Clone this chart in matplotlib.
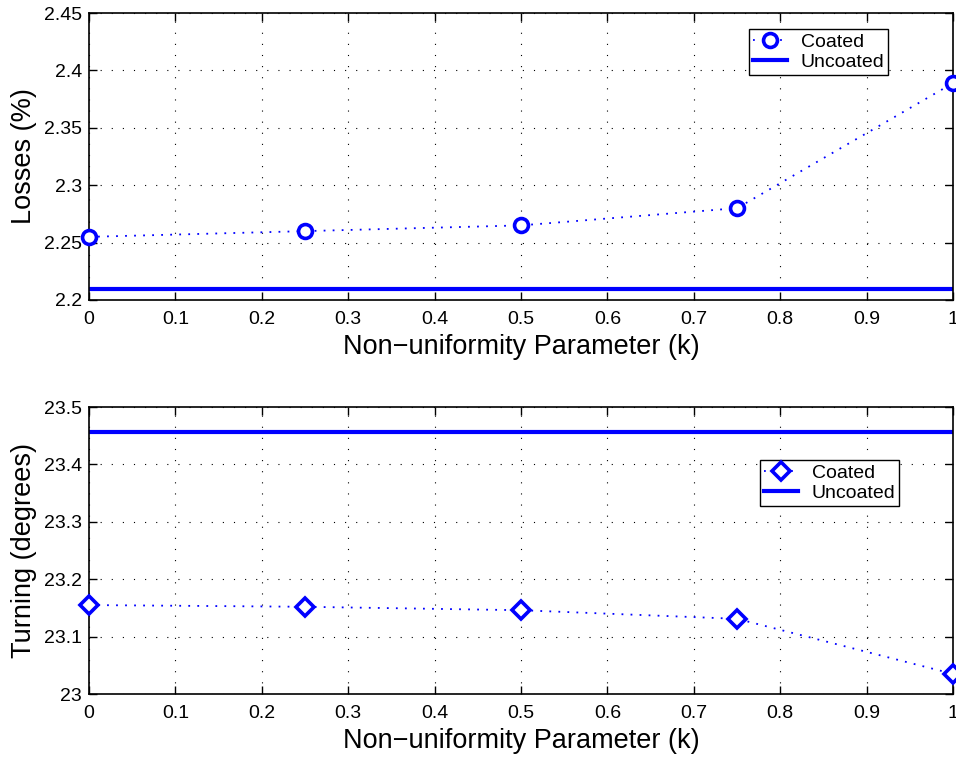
import matplotlib
matplotlib.use("Agg")
import matplotlib.pyplot as plt

plt.rcParams['font.family'] = ['Liberation Sans', 'DejaVu Sans']

k = [0, 0.25, 0.5, 0.75, 1.0]
losses_coated = [2.255, 2.260, 2.265, 2.280, 2.389]
losses_uncoated = 2.21
turning_coated = [23.155, 23.152, 23.146, 23.131, 23.035]
turning_uncoated = 23.456

xticks = [0, 0.1, 0.2, 0.3, 0.4, 0.5, 0.6, 0.7, 0.8, 0.9, 1]
xticklabels = ['0', '0.1', '0.2', '0.3', '0.4', '0.5', '0.6', '0.7', '0.8', '0.9', '1']
loss_ticks = [2.2, 2.25, 2.3, 2.35, 2.4, 2.45]
loss_labels = ['2.2', '2.25', '2.3', '2.35', '2.4', '2.45']
turn_ticks = [23, 23.1, 23.2, 23.3, 23.4, 23.5]
turn_labels = ['23', '23.1', '23.2', '23.3', '23.4', '23.5']

blue = '#0000ff'

fig = plt.figure(figsize=(9.56, 7.57), dpi=100)
ax1 = fig.add_axes([0.0931, 0.6037, 0.9039, 0.3791])
ax2 = fig.add_axes([0.0931, 0.0832, 0.9039, 0.3791])


def style(ax, yticks, ylabels, ylim, ylabel):
    ax.set_xlim(0, 1)
    ax.set_ylim(*ylim)
    ax.set_xticks(xticks)
    ax.set_xticklabels(xticklabels)
    ax.set_yticks(yticks)
    ax.set_yticklabels(ylabels)
    ax.tick_params(direction='in', length=6, width=1, labelsize=14,
                   top=True, right=True, colors='black')
    ax.tick_params(axis='x', pad=8)
    ax.tick_params(axis='y', pad=5)
    ax.grid(True, color='black', linestyle=(0, (1, 9)), linewidth=0.8)
    for s in ax.spines.values():
        s.set_linewidth(1.2)
    ax.set_xlabel('Non\u2212uniformity Parameter (k)', fontsize=19.5, labelpad=4)
    ax.set_ylabel(ylabel, fontsize=19.5, labelpad=5)


def add_legend(ax, anchor):
    leg = ax.legend(loc='upper left', bbox_to_anchor=anchor, fontsize=14,
                    frameon=True, fancybox=False, edgecolor='black',
                    framealpha=1, handlelength=1.75, borderpad=0.2,
                    labelspacing=0.15, handletextpad=0.7, borderaxespad=0)
    leg.get_frame().set_linewidth(1.0)
    return leg


ax1.plot(k, losses_coated, linestyle=(0, (1, 4)), color=blue, linewidth=1.3,
         marker='o', markersize=10, markerfacecolor='white',
         markeredgewidth=2.6, markeredgecolor=blue, label='Coated',
         clip_on=False, zorder=5)
ax1.axhline(losses_uncoated, color=blue, linewidth=3, label='Uncoated')
style(ax1, loss_ticks, loss_labels, (2.2, 2.45), 'Losses (%)')
add_legend(ax1, (0.764, 0.944))

ax2.plot(k, turning_coated, linestyle=(0, (1, 4)), color=blue, linewidth=1.3,
         marker='D', markersize=9, markerfacecolor='white',
         markeredgewidth=2.6, markeredgecolor=blue, label='Coated',
         clip_on=False, zorder=5)
ax2.axhline(turning_uncoated, color=blue, linewidth=3, label='Uncoated')
style(ax2, turn_ticks, turn_labels, (23, 23.5), 'Turning (degrees)')
add_legend(ax2, (0.7766, 0.815))

fig.savefig('out.png', dpi=100)
